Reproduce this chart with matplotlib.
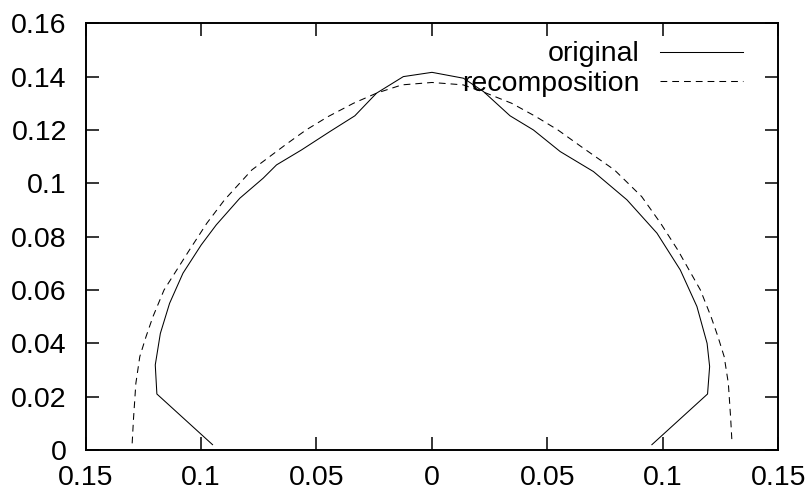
import matplotlib
matplotlib.use("Agg")
import matplotlib.pyplot as plt

plt.rcParams['font.family'] = ['Liberation Sans', 'DejaVu Sans']

# original contour (solid)
x_orig = [-0.095, -0.1191, -0.1198, -0.1176, -0.1136, -0.1078, -0.0999, -0.0934,
          -0.0832, -0.0731, -0.0673, -0.0565, -0.0442, -0.0334, -0.0240, -0.0124,
          0.0, 0.0136, 0.0223, 0.0338, 0.0439, 0.0555, 0.0699, 0.0844, 0.0974,
          0.1075, 0.1147, 0.1191, 0.1202, 0.1193, 0.0952]
y_orig = [0.002, 0.021, 0.0319, 0.0437, 0.055, 0.0663, 0.0769, 0.0844,
          0.0944, 0.1019, 0.1069, 0.1125, 0.1194, 0.1253, 0.1338, 0.1400,
          0.1416, 0.1394, 0.1344, 0.1253, 0.1200, 0.1119, 0.1044, 0.0938, 0.0813,
          0.0675, 0.0538, 0.0400, 0.0313, 0.0210, 0.002]

# recomposition (dashed)
x_rec = [-0.1298, -0.1292, -0.1282, -0.1265, -0.1238, -0.1208, -0.1160, -0.1050,
         -0.0975, -0.0898, -0.0780, -0.0635, -0.0545, -0.0450, -0.0340, -0.0240,
         -0.0130, 0.0, 0.0135, 0.0235, 0.0345, 0.0450, 0.0545, 0.0645, 0.0790,
         0.0908, 0.0990, 0.1064, 0.1162, 0.1208, 0.1238, 0.1265, 0.1283, 0.1293,
         0.1299]
y_rec = [0.0025, 0.012, 0.025, 0.035, 0.0425, 0.050, 0.060, 0.075,
         0.085, 0.0938, 0.105, 0.1144, 0.120, 0.125, 0.130, 0.1338,
         0.1369, 0.1378, 0.1369, 0.1338, 0.130, 0.125, 0.120, 0.1138, 0.105,
         0.095, 0.085, 0.075, 0.060, 0.050, 0.0425, 0.035, 0.025, 0.012,
         0.0025]

x_ticks = [-0.15, -0.1, -0.05, 0, 0.05, 0.1, 0.15]
x_tick_labels = ['0.15', '0.1', '0.05', '0', '0.05', '0.1', '0.15']
y_ticks = [0, 0.02, 0.04, 0.06, 0.08, 0.1, 0.12, 0.14, 0.16]

fig = plt.figure(figsize=(8.12, 4.95), dpi=100)
ax = fig.add_axes([0.1053, 0.0909, 0.8534, 0.8621])

dash = (0, (6.5, 4.8))
ax.plot(x_orig, y_orig, color='black', lw=0.75)
ax.plot(x_rec, y_rec, color='black', lw=0.75, linestyle=dash)

ax.set_xlim(-0.15, 0.15)
ax.set_ylim(0, 0.16)
ax.set_xticks(x_ticks)
ax.set_xticklabels(x_tick_labels)
ax.set_yticks(y_ticks)
ax.set_yticklabels(['%g' % v for v in y_ticks])

for s in ax.spines.values():
	s.set_linewidth(1.4)
ax.tick_params(direction='in', length=9.4, width=1.1, top=True, right=True,
               labelsize=20.5)
ax.tick_params(axis='y', pad=13.5)
ax.tick_params(axis='x', pad=10.5)

# legend, gnuplot style: text right aligned, sample line to the right
ax.text(0.800, 0.9124, 'original', ha='right', va='baseline', fontsize=20.5,
        transform=ax.transAxes)
ax.text(0.800, 0.8413, 'recomposition', ha='right', va='baseline', fontsize=20.5,
        transform=ax.transAxes)
ax.plot([0.829, 0.949], [0.9335, 0.9335], color='black', lw=0.75,
        transform=ax.transAxes)
ax.plot([0.829, 0.949], [0.8645, 0.8645], color='black', lw=0.75,
        linestyle=dash, transform=ax.transAxes)

fig.savefig('out.png', dpi=100)
